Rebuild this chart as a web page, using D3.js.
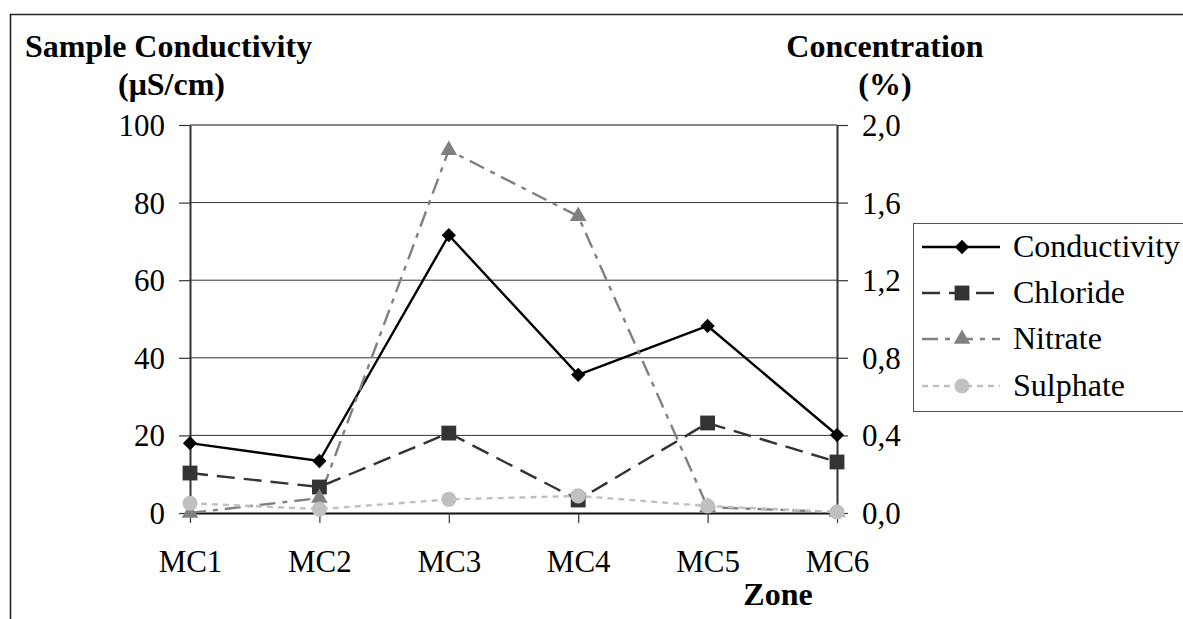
<!DOCTYPE html>
<html><head><meta charset="utf-8">
<script src="https://cdn.jsdelivr.net/npm/d3@7"></script>
</head><body style="margin:0;overflow:hidden"><svg id="c" width="1183" height="619" font-family="Liberation Serif"></svg>
<script>
const zones = ["MC1","MC2","MC3","MC4","MC5","MC6"];
const conductivity = [18.0, 13.4, 71.6, 35.6, 48.2, 20.1];   // µS/cm (left axis)
const chloride = [0.206, 0.134, 0.412, 0.067, 0.464, 0.263]; // % (right axis)
const nitrate = [0.0, 0.077, 1.87, 1.53, 0.03, 0.005];       // %
const sulphate = [0.05, 0.02, 0.07, 0.088, 0.036, 0.005];    // %
const leftTicks = [0,20,40,60,80,100];
const rightTicks = [0,0.4,0.8,1.2,1.6,2.0];
const seriesNames = ["Conductivity","Chloride","Nitrate","Sulphate"];

const FONT = "Liberation Serif";
const FS = 31, FS2 = 32;
const svg = d3.select("#c");
const x = d3.scalePoint().domain(zones).range([190, 837]);
const yL = d3.scaleLinear().domain([0,100]).range([513,125]);
const yR = d3.scaleLinear().domain([0,2]).range([513,125]);
const setFont = (sel, fs=FS) => sel.attr("font-family",FONT).style("font-family",FONT).attr("font-size",fs).style("font-size",fs+"px");

// outer frame (cropped)
svg.append("path").attr("d","M10.5,619 V14.5 H1183").attr("fill","none").attr("stroke","#222").attr("stroke-width",1.6);

// gridlines
svg.append("g").selectAll("line").data(leftTicks.filter(d=>d>0 && d<100)).join("line")
  .attr("x1",190).attr("x2",837).attr("y1",d=>yL(d)).attr("y2",d=>yL(d))
  .attr("stroke","#333").attr("stroke-width",1);
// top border of plot (gray)
svg.append("line").attr("x1",190).attr("x2",837).attr("y1",yL(100)).attr("y2",yL(100))
  .attr("stroke","#888").attr("stroke-width",2);

// axes
const fmt = d3.format(".1f");
const gL = svg.append("g").attr("transform","translate(190,0)")
  .call(d3.axisLeft(yL).tickValues(leftTicks).tickSizeInner(11).tickSizeOuter(0).tickPadding(14).tickFormat(d3.format("d")));
const gR = svg.append("g").attr("transform","translate(837,0)")
  .call(d3.axisRight(yR).tickValues(rightTicks).tickSizeInner(11).tickSizeOuter(0).tickPadding(14).tickFormat(d=>fmt(d).replace(".",",")));
const gB = svg.append("g").attr("transform","translate(0,513)")
  .call(d3.axisBottom(x).tickSizeInner(10).tickSizeOuter(0).tickPadding(22));
[gL,gR,gB].forEach(g=>{
  setFont(g);
  g.select(".domain").attr("stroke","#333").attr("stroke-width",2);
  g.selectAll(".tick line").attr("stroke","#333").attr("stroke-width",1.2);
  setFont(g.selectAll("text")).attr("fill","#000");
});
gB.select(".domain").attr("stroke","#111");
gB.selectAll("text").attr("dy",null).attr("y",59);
gL.selectAll("text").attr("dy","0.34em");
gR.selectAll("text").attr("dy","0.34em");

// series
const styles = {
  Conductivity:{color:"#000", dash:null, width:2.4, marker:d3.symbolDiamond2, size:130, y:yL, data:conductivity},
  Chloride:{color:"#333", dash:"18,9", width:2.4, marker:d3.symbolSquare, size:220, y:yR, data:chloride},
  Nitrate:{color:"#808080", dash:"16,7,5,7", width:2.4, marker:d3.symbolTriangle, size:120, y:yR, data:nitrate},
  Sulphate:{color:"#c0c0c0", dash:"6,5", width:2.4, marker:d3.symbolCircle, size:180, y:yR, data:sulphate}
};
seriesNames.forEach(n=>{
  const s = styles[n];
  const line = d3.line().x((d,i)=>x(zones[i])).y(d=>s.y(d));
  svg.append("path").datum(s.data).attr("d",line).attr("fill","none")
    .attr("stroke",s.color).attr("stroke-width",s.width).attr("stroke-dasharray",s.dash);
});
seriesNames.forEach(n=>{
  const s = styles[n];
  svg.append("g").selectAll("path").data(s.data).join("path")
    .attr("transform",(d,i)=>`translate(${x(zones[i])},${s.y(d)})`)
    .attr("d",d3.symbol().type(s.marker).size(s.size)).attr("fill",s.color);
});

// titles
const bold = (t,xx,yy,anchor)=>setFont(svg.append("text"),FS2).attr("x",xx).attr("y",yy)
  .attr("text-anchor",anchor).attr("font-weight","bold").style("font-weight","bold").attr("fill","#000").text(t);
bold("Sample Conductivity",25,57,"start");
bold("(μS/cm)",118,95,"start");
bold("Concentration",885,57,"middle");
bold("(%)",885,95,"middle");
bold("Zone",778,605,"middle");

// legend
const leg = svg.append("g");
leg.append("rect").attr("x",913.5).attr("y",223.5).attr("width",300).attr("height",188)
  .attr("fill","#fff").attr("stroke","#555").attr("stroke-width",1);
const legY = [247,293,339,386];
seriesNames.forEach((n,i)=>{
  const s = styles[n];
  const g = leg.append("g").attr("transform",`translate(0,${legY[i]})`);
  g.append("line").attr("x1",922).attr("x2",1000).attr("y1",0).attr("y2",0)
    .attr("stroke",s.color).attr("stroke-width",s.width).attr("stroke-dasharray",s.dash);
  g.append("path").attr("transform","translate(962,0)")
    .attr("d",d3.symbol().type(s.marker).size(s.size)).attr("fill",s.color);
  setFont(g.append("text"),FS2).attr("x",1013).attr("y",10).attr("fill","#000").text(n);
});
</script></body></html>
